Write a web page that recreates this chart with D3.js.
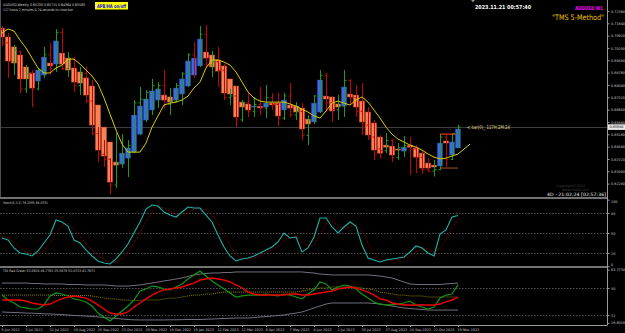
<!DOCTYPE html>
<html>
<head>
<meta charset="utf-8">
<script src="https://cdn.jsdelivr.net/npm/d3@7"></script>
<style>
  body { margin: 0; background: #000; }
  svg { display: block; }
  text { font-family: "DejaVu Sans", sans-serif; }
</style>
</head>
<body>
<div id="chart"></div>
<script>
// weekly bars, 5 Jun 2022 .. 19 Nov 2023
var dateIdx = [0, 4, 8, 12, 16, 20, 24, 28, 32, 36, 40, 44, 48, 52, 56, 60, 64, 68, 72, 76];
var dateLabels = ["5 Jun 2022", "3 Jul 2022", "31 Jul 2022", "28 Aug 2022", "25 Sep 2022", "23 Oct 2022",
  "20 Nov 2022", "18 Dec 2022", "15 Jan 2023", "12 Feb 2023", "12 Mar 2023", "9 Apr 2023", "7 May 2023",
  "4 Jun 2023", "2 Jul 2023", "30 Jul 2023", "27 Aug 2023", "24 Sep 2023", "22 Oct 2023", "19 Nov 2023"];

// heiken ashi bodies
var haOpen = [0.7136,0.7084,0.7026,0.6979,0.6909,0.6874,0.6827,0.6862,0.6932,0.6926,
  0.6990,0.6961,0.6903,0.6880,0.6845,0.6798,0.6687,0.6558,0.6471,0.6354,
  0.6342,0.6377,0.6412,0.6517,0.6599,0.6658,0.6716,0.6745,0.6734,0.6716,
  0.6751,0.6798,0.6862,0.6915,0.6996,0.6979,0.6950,0.6915,0.6839,0.6798,
  0.6704,0.6693,0.6675,0.6679,0.6675,0.6698,0.6698,0.6658,0.6687,0.6681,
  0.6669,0.6605,0.6588,0.6646,0.6739,0.6734,0.6693,0.6681,0.6751,0.6745,
  0.6710,0.6646,0.6582,0.6500,0.6453,0.6447,0.6430,0.6418,0.6453,0.6436,
  0.6406,0.6348,0.6336,0.6331,0.6477,0.6395,0.6436];
var haClose = [0.7084,0.6944,0.6932,0.6839,0.6839,0.6786,0.6891,0.6967,0.6915,0.7061,
  0.6926,0.6891,0.6821,0.6815,0.6745,0.6570,0.6424,0.6389,0.6237,0.6336,
  0.6406,0.6436,0.6628,0.6681,0.6722,0.6769,0.6780,0.6716,0.6704,0.6786,
  0.6839,0.6944,0.6961,0.7072,0.6961,0.6909,0.6885,0.6757,0.6751,0.6617,
  0.6675,0.6658,0.6681,0.6670,0.6698,0.6687,0.6623,0.6716,0.6669,0.6646,
  0.6547,0.6576,0.6698,0.6833,0.6722,0.6652,0.6675,0.6792,0.6734,0.6675,
  0.6588,0.6512,0.6424,0.6406,0.6441,0.6395,0.6424,0.6441,0.6441,0.6383,
  0.6319,0.6319,0.6325,0.6465,0.6465,0.6471,0.6547];

// real price bars
var barOpen = [0.7130,0.7050,0.6940,0.7000,0.6780,0.6870,0.6780,0.6890,0.6980,0.6900,
  0.7110,0.6900,0.6960,0.6800,0.6870,0.6710,0.6520,0.6400,0.6370,0.6220,
  0.6350,0.6400,0.6450,0.6700,0.6720,0.6760,0.6780,0.6800,0.6690,0.6710,
  0.6800,0.6870,0.6980,0.6960,0.7100,0.6920,0.6940,0.6890,0.6730,0.6740,
  0.6600,0.6700,0.6650,0.6690,0.6670,0.6730,0.6690,0.6610,0.6740,0.6630,
  0.6650,0.6510,0.6600,0.6740,0.6860,0.6700,0.6660,0.6680,0.6830,0.6730,
  0.6650,0.6570,0.6500,0.6430,0.6420,0.6480,0.6380,0.6440,0.6450,0.6430,
  0.6380,0.6310,0.6300,0.6310,0.6500,0.6370,0.6520];
var barHigh = [0.7148,0.7107,0.7037,0.7005,0.6920,0.6891,0.6903,0.7026,0.7049,0.7130,
  0.7136,0.6996,0.6965,0.6909,0.6909,0.6833,0.6558,0.6482,0.6377,0.6523,
  0.6517,0.6482,0.6716,0.6792,0.6774,0.6839,0.6821,0.6891,0.6786,0.6815,
  0.6880,0.6990,0.7055,0.7148,0.7154,0.7002,0.7026,0.6926,0.6783,0.6798,
  0.6716,0.6757,0.6734,0.6792,0.6804,0.6757,0.6757,0.6757,0.6815,0.6704,
  0.6698,0.6628,0.6745,0.6891,0.6874,0.6734,0.6745,0.6891,0.6839,0.6804,
  0.6815,0.6675,0.6599,0.6512,0.6523,0.6490,0.6465,0.6506,0.6500,0.6453,
  0.6420,0.6377,0.6366,0.6517,0.6512,0.6523,0.6572];
var barLow = [0.7031,0.6845,0.6862,0.6757,0.6757,0.6675,0.6774,0.6845,0.6862,0.6880,
  0.6891,0.6850,0.6763,0.6745,0.6698,0.6512,0.6354,0.6325,0.6167,0.6202,
  0.6319,0.6266,0.6406,0.6512,0.6588,0.6628,0.6669,0.6669,0.6628,0.6704,
  0.6687,0.6792,0.6845,0.6909,0.6909,0.6850,0.6792,0.6716,0.6687,0.6558,
  0.6588,0.6617,0.6617,0.6628,0.6611,0.6658,0.6564,0.6599,0.6617,0.6599,
  0.6482,0.6453,0.6576,0.6640,0.6646,0.6588,0.6599,0.6617,0.6687,0.6617,
  0.6512,0.6482,0.6366,0.6377,0.6406,0.6354,0.6366,0.6383,0.6278,0.6290,
  0.6285,0.6296,0.6270,0.6307,0.6325,0.6366,0.6436];
var barClose = [0.7050,0.6940,0.7008,0.6780,0.6870,0.6780,0.6890,0.6980,0.6900,0.7110,
  0.6900,0.6960,0.6800,0.6870,0.6710,0.6520,0.6400,0.6370,0.6220,0.6350,
  0.6400,0.6450,0.6700,0.6720,0.6760,0.6800,0.6800,0.6690,0.6710,0.6800,
  0.6870,0.6980,0.6960,0.7100,0.6920,0.6940,0.6890,0.6730,0.6740,0.6600,
  0.6700,0.6650,0.6690,0.6670,0.6730,0.6690,0.6610,0.6740,0.6630,0.6650,
  0.6510,0.6600,0.6740,0.6860,0.6700,0.6660,0.6680,0.6830,0.6730,0.6650,
  0.6570,0.6500,0.6400,0.6420,0.6480,0.6380,0.6440,0.6450,0.6430,0.6380,
  0.6310,0.6300,0.6310,0.6500,0.6370,0.6520,0.6558];

// shifted moving average (runs 2 bars past the last one)
var maValues = [0.7107,0.7131,0.7119,0.7066,0.7020,0.6961,0.6903,0.6874,0.6874,0.6903,
  0.6920,0.6955,0.6955,0.6926,0.6891,0.6856,0.6809,0.6728,0.6634,0.6541,
  0.6459,0.6412,0.6412,0.6412,0.6465,0.6558,0.6623,0.6687,0.6698,0.6704,
  0.6716,0.6739,0.6786,0.6821,0.6903,0.6950,0.6950,0.6938,0.6920,0.6880,
  0.6821,0.6763,0.6728,0.6710,0.6704,0.6704,0.6704,0.6704,0.6693,0.6681,
  0.6663,0.6646,0.6623,0.6611,0.6652,0.6698,0.6710,0.6698,0.6687,0.6716,
  0.6734,0.6704,0.6658,0.6611,0.6558,0.6517,0.6488,0.6471,0.6453,0.6441,
  0.6424,0.6401,0.6383,0.6372,0.6377,0.6389,0.6401,0.6430,0.6459];

// box levels on the last bars
var boxHigh = 0.6517, boxLow = 0.6319;
var boxFrom = 73, boxTo = 75.6;

var priceTicks = [0.72360, 0.71640, 0.70920, 0.70200, 0.69480, 0.68760, 0.68040, 0.67320,
  0.66600, 0.65880, 0.65160, 0.64440, 0.63720, 0.63000, 0.62280];

// stochastic
var stochMain = [42.5,39.5,27.5,20,18.5,15.5,23,35,47,69.5,
  66.5,60.5,39.5,35,24.5,15.5,8,5,3.5,11,
  21.5,33.5,50,66.5,86,92,90.5,81.5,77,74,
  81.5,89,87.5,87.5,77,66.5,47,29,15.5,8,
  11,12.5,15.5,20,24.5,29,36.5,50,42.5,44,
  21.5,27.5,44,72.5,72.5,59,50,59,66.5,60.5,
  32,12.5,9.5,6.5,9.5,11,12.5,14,21.5,30.5,
  27.5,20,15.5,48.5,54.5,74,76.2];
var stochSignal = [45,42,36,29,22,18,19,24,35,50,
  61,65,55,45,33,25,16,10,6,7,
  12,22,35,50,67,81,89,88,83,77,
  77,81,86,88,84,77,64,48,31,18,
  12,11,13,16,20,25,30,38,43,46,
  36,31,31,48,63,68,61,56,59,62,
  53,35,18,10,9,9,11,13,16,22,
  26,26,21,28,39,59,68.1];
var stochLevels = [80, 50, 20];
var stochTicks = [100, 80, 50, 20, 0];

// TDI
var tdiGreen = [45.3,42,40,37.3,36.7,36,36,38.7,44.7,46.7,
  46,44.7,42.7,42,40.7,38,33.3,30.7,28,31.3,
  34.7,38,42,48,49.3,51.3,50.7,49.3,48.7,50.7,
  52.7,56,58.7,61.3,58,54.7,52,49.3,46.7,44,
  44.7,45.3,45.3,45.3,46,45.3,44.7,46,45.3,44,
  42.7,46,48.7,54,52.7,48.7,50.7,52,51.3,49.3,
  46,43.3,40.7,39.3,38.7,38.7,39.3,40,41.3,38.7,
  37.3,36,37.3,43.3,45.3,46,52.1];
var tdiRed = [42,42,42,42,41.3,40,39.3,38.7,39.3,41.3,
  42.7,44,44.7,44,43.3,41.3,38.7,36,33.3,32.7,
  32.7,34,37.3,40,42.7,45.3,47.3,48.7,49.3,50,
  50.7,52,53.3,55.3,56,56.7,56,55.3,54,52,
  50,47.3,46,45.3,45.3,45.3,45.3,45.3,46,46,
  45.3,45.3,46,46.7,47.3,48,49.3,50,50.7,50,
  48.7,47.3,45.3,42.7,42,40,39.3,38.7,38.7,38.7,
  38.7,38.7,38.7,39.3,40.7,42,43.8];
var tdiBase = [45.3,45.3,45.3,45.3,45.3,45.3,45.3,45.3,45.3,45,
  45,45,45,45,45,44.7,44,43.3,42.7,42.7,
  42,42,41.7,41.7,42,42,42,42.7,43.3,43.3,
  44,44.7,45.3,45.3,46,46,46.7,47.3,47.3,47.3,
  47.3,47.3,47.3,47.3,47.3,47.3,47.3,47.3,47.3,47.3,
  48,48.7,49.3,50,50,50.7,50.7,50.7,50.7,50.7,
  50,49.3,48.7,47.3,46.7,46,45.3,45.3,44.7,44.7,
  44.7,44,44,44,44,44,44];
var tdiUpper = [53.3,53.3,53.3,53.3,53.3,53,53,52.7,52.7,52.7,
  52.7,52.3,52.3,52.3,52,52,52,52,51.7,51.3,
  51.3,51.3,51.7,52,52.7,53.3,54,54.7,55.3,56,
  56.7,57.7,58.7,59.3,59.7,60,60,60.3,60.3,60.7,
  60.7,60.7,60.7,60.7,60.7,60.7,60.7,60.7,60.7,60.7,
  60.7,60.3,60,59.3,59,58.7,58.7,58.7,58.7,58.7,
  58.7,58.7,58.3,58,57.3,56.7,55.3,54,52.7,52.3,
  52.3,52.3,52.3,52.3,52.7,53,53.3];
var tdiLower = [34,33.8,33.7,33.5,33.3,33.2,33,32.8,32.7,32.5,
  32.3,32,31.7,31.5,31.3,31,30.7,30.3,30,29.7,
  29.3,29,28.8,28.7,28.7,28.7,28.7,28.7,28.8,28.8,
  28.9,29,29,29,29.2,29.3,29.5,29.7,29.8,30,
  30,30,30.3,30.7,31,31.3,31.7,32,32.7,33.3,
  34,35.3,36.7,38,39.3,40,40,40,40,40,
  40,40,39.7,39.3,38.7,38,37.3,36.7,36.3,36,
  35.7,35.3,35.3,35.3,35.3,35.3,35.3];
var tdiLevels = [50, 32];
var tdiTickLabels = ["63.7734", "50", "32", "26.6019"];
var tdiTickValues = [62.2, 50, 32, 26.8];

// layout
var svgWidth = 625;
var svgHeight = 333;
var plotRight = 607;
var mainBottom = 197;

var svg = d3.select("#chart")
  .append("svg")
  .attr("width", svgWidth)
  .attr("height", svgHeight)
  .style("background", "#000");

var xScale = d3.scaleLinear().domain([0, 100]).range([2, 602]);
var yPrice = d3.scaleLinear().domain([0.6150, 0.7300]).range([mainBottom, 0]);
var yStoch = d3.scaleLinear().domain([0, 100]).range([266.3, 199.7]);
var yTdi = d3.scaleLinear().domain([26, 63.33]).range([324, 268]);

var defs = svg.append("defs");
function clip(id, y0, y1) {
  defs.append("clipPath").attr("id", id).append("rect")
    .attr("x", 0).attr("y", y0).attr("width", plotRight).attr("height", y1 - y0);
  return svg.append("g").attr("clip-path", "url(#" + id + ")");
}
var mainG = clip("clipMain", 0, mainBottom);
var stochG = clip("clipStoch", 199, 266);
var tdiG = clip("clipTdi", 268, 324);

var idx = d3.range(haOpen.length);
var last = idx.length - 1;

// bid line
mainG.append("line")
  .attr("x1", 0).attr("x2", plotRight)
  .attr("y1", Math.round(yPrice(barClose[last])) + 0.5)
  .attr("y2", Math.round(yPrice(barClose[last])) + 0.5)
  .attr("stroke", "#3c3c3c").attr("stroke-width", 1);

// heiken ashi bodies
mainG.selectAll("rect.body")
  .data(idx)
  .enter()
  .append("rect")
  .attr("x", i => xScale(i) - 2.5)
  .attr("width", 5)
  .attr("y", i => yPrice(Math.max(haOpen[i], haClose[i])))
  .attr("height", i => Math.max(1, Math.abs(yPrice(haOpen[i]) - yPrice(haClose[i]))))
  .attr("fill", i => haClose[i] >= haOpen[i] ? "#3f6ae0" : "#ff7f55")
  .attr("stroke", i => haClose[i] >= haOpen[i] ? "#2a4cb8" : "#c4522e")
  .attr("stroke-width", 0.5);

// real bars on top
mainG.selectAll("path.bar")
  .data(idx)
  .enter()
  .append("path")
  .attr("d", function(i) {
    var x = xScale(i) + 0.5;
    return "M" + x + "," + yPrice(barHigh[i]) + "V" + yPrice(barLow[i]) +
      "M" + (x - 2) + "," + yPrice(barOpen[i]) + "H" + x +
      "M" + x + "," + yPrice(barClose[i]) + "H" + (x + 2);
  })
  .attr("fill", "none")
  .attr("stroke", i => barClose[i] >= barOpen[i] ? "#1f9a1f" : "#c80000")
  .attr("stroke-width", 1);

// moving average
var maLine = d3.line()
  .x((d, i) => xScale(i))
  .y(d => yPrice(d));
mainG.append("path")
  .datum(maValues)
  .attr("d", maLine)
  .attr("fill", "none")
  .attr("stroke", "#d8cc00")
  .attr("stroke-width", 1);

// box levels
mainG.append("line")
  .attr("x1", xScale(boxFrom)).attr("x2", xScale(boxTo))
  .attr("y1", yPrice(boxHigh)).attr("y2", yPrice(boxHigh))
  .attr("stroke", "#ff4a10").attr("stroke-width", 1);
mainG.append("line")
  .attr("x1", xScale(boxFrom)).attr("x2", xScale(last))
  .attr("y1", yPrice(boxLow)).attr("y2", yPrice(boxLow))
  .attr("stroke", "#a0521e").attr("stroke-width", 1);

mainG.append("text")
  .attr("x", xScale(last) + 9)
  .attr("y", yPrice(barClose[last]) + 2)
  .attr("font-family", "Liberation Serif, serif")
  .attr("font-size", 5)
  .attr("textLength", 43)
  .attr("lengthAdjust", "spacingAndGlyphs")
  .attr("fill", "#e0dc90")
  .text("< bar(0)_ 117H:2M:24");

// header texts
svg.append("text").attr("x", 3).attr("y", 6).attr("font-size", 3.6)
  .attr("textLength", 82).attr("lengthAdjust", "spacingAndGlyphs")
  .attr("fill", "#d0d0d0").text("AUDUSD,Weekly  0.65200 0.65715 0.64364 0.65580");
svg.append("text").attr("x", 3).attr("y", 11).attr("font-size", 3.6)
  .attr("textLength", 70).attr("lengthAdjust", "spacingAndGlyphs")
  .attr("fill", "#d0d0d0").text("117 hours 2 minutes & 24 seconds to close bar");

svg.append("rect").attr("x", 95).attr("y", 2).attr("width", 33).attr("height", 7.5).attr("fill", "#ffff00");
svg.append("text").attr("x", 97).attr("y", 8).attr("font-size", 5).attr("font-weight", "bold")
  .attr("textLength", 29).attr("lengthAdjust", "spacingAndGlyphs")
  .attr("fill", "#1010e0").text("APB/HA on/off");

svg.append("path").attr("d", "M471,0 L475,0 L473,2.5 Z").attr("fill", "#909090");
svg.append("text").attr("x", 475).attr("y", 8.5).attr("font-size", 5.5).attr("font-weight", "bold")
  .attr("textLength", 56).attr("lengthAdjust", "spacingAndGlyphs")
  .attr("fill", "#ffffff").text("2023.11.21 00:57:40");
svg.append("text").attr("x", 575).attr("y", 9.5).attr("font-size", 5).attr("font-weight", "bold")
  .attr("textLength", 28).attr("lengthAdjust", "spacingAndGlyphs")
  .attr("fill", "#ff00ff").text("AUDUSD W1");
svg.append("text").attr("x", 552).attr("y", 19.5).attr("font-size", 7.5)
  .attr("textLength", 52).attr("lengthAdjust", "spacingAndGlyphs")
  .attr("fill", "#f0c000").text("\"TMS 5-Method\"");

svg.append("text").attr("x", 556).attr("y", 187).attr("font-size", 3.5)
  .attr("fill", "#3a3a3a").text("Copyright©2010");
svg.append("text").attr("x", 562).attr("y", 191).attr("font-size", 3.5)
  .attr("fill", "#3a3a3a").text("www.mql4.com");
svg.append("text").attr("x", 547).attr("y", 196).attr("font-size", 4.5)
  .attr("textLength", 59).attr("lengthAdjust", "spacingAndGlyphs")
  .attr("fill", "#e8e8e8").text("4D - 21:02:24 [02:57:36]");

// stochastic panel
stochG.selectAll("line.lvl")
  .data(stochLevels)
  .enter()
  .append("line")
  .attr("x1", 0).attr("x2", plotRight)
  .attr("y1", d => Math.round(yStoch(d)) + 0.5).attr("y2", d => Math.round(yStoch(d)) + 0.5)
  .attr("stroke", "#8a8a8a").attr("stroke-width", 0.6).attr("stroke-dasharray", "1.5,1.5");

var lineStoch = d3.line().x((d, i) => xScale(i)).y(d => yStoch(d));
stochG.append("path").datum(stochSignal).attr("d", lineStoch)
  .attr("fill", "none").attr("stroke", "#a00000").attr("stroke-width", 0.8).attr("stroke-dasharray", "1,1");
stochG.append("path").datum(stochMain).attr("d", lineStoch)
  .attr("fill", "none").attr("stroke", "#20b0a8").attr("stroke-width", 1.1);

svg.append("text").attr("x", 3).attr("y", 204).attr("font-size", 3.4)
  .attr("textLength", 45).attr("lengthAdjust", "spacingAndGlyphs")
  .attr("fill", "#d0d0d0").text("Stoch(5,3,3) 76.2055 68.0751");

// TDI panel
tdiG.selectAll("line.lvl")
  .data(tdiLevels)
  .enter()
  .append("line")
  .attr("x1", 0).attr("x2", plotRight)
  .attr("y1", d => Math.round(yTdi(d)) + 0.5).attr("y2", d => Math.round(yTdi(d)) + 0.5)
  .attr("stroke", "#8a8a8a").attr("stroke-width", 0.6).attr("stroke-dasharray", "1.5,1.5");

var lineTdi = d3.line().x((d, i) => xScale(i)).y(d => yTdi(d));
tdiG.append("path").datum(tdiUpper).attr("d", lineTdi)
  .attr("fill", "none").attr("stroke", "#7c7c8c").attr("stroke-width", 0.9);
tdiG.append("path").datum(tdiLower).attr("d", lineTdi)
  .attr("fill", "none").attr("stroke", "#7c7c8c").attr("stroke-width", 0.9);
tdiG.append("path").datum(tdiBase).attr("d", lineTdi)
  .attr("fill", "none").attr("stroke", "#b4a400").attr("stroke-width", 0.8).attr("stroke-dasharray", "1,1");
tdiG.append("path").datum(tdiGreen).attr("d", lineTdi)
  .attr("fill", "none").attr("stroke", "#149614").attr("stroke-width", 1.2);
tdiG.append("path").datum(tdiRed).attr("d", lineTdi)
  .attr("fill", "none").attr("stroke", "#f00000").attr("stroke-width", 1.4);

svg.append("text").attr("x", 3).attr("y", 272).attr("font-size", 3.4)
  .attr("textLength", 92).attr("lengthAdjust", "spacingAndGlyphs")
  .attr("fill", "#d0d0d0").text("TDI Red Green 53.0928 44.7783 25.5879 52.0723 43.7671");

// frames
var frame = svg.append("g").attr("stroke", "#9a9a9a").attr("fill", "none");
frame.append("line").attr("x1", 0).attr("x2", plotRight + 0.5).attr("y1", 198).attr("y2", 198).attr("stroke-width", 1.6);
frame.append("line").attr("x1", 0).attr("x2", plotRight + 0.5).attr("y1", 267).attr("y2", 267).attr("stroke-width", 1.6);
frame.append("line").attr("x1", 0.5).attr("x2", 0.5).attr("y1", 0).attr("y2", 197).attr("stroke", "#505050");

// right-hand axes
var priceAxis = svg.append("g")
  .attr("transform", "translate(" + (plotRight + 0.5) + ",0)")
  .call(d3.axisRight(yPrice).tickValues(priceTicks).tickSize(2).tickFormat(d3.format(".5f")));
var stochAxis = svg.append("g")
  .attr("transform", "translate(" + (plotRight + 0.5) + ",0)")
  .call(d3.axisRight(yStoch).tickValues(stochTicks).tickSize(2).tickFormat(d3.format("d")));
var tdiAxis = svg.append("g")
  .attr("transform", "translate(" + (plotRight + 0.5) + ",0)")
  .call(d3.axisRight(yTdi).tickValues(tdiTickValues).tickSize(2).tickFormat((d, k) => tdiTickLabels[k]));

[priceAxis, stochAxis, tdiAxis].forEach(function(ax) {
  ax.select(".domain").remove();
  ax.selectAll("line").attr("stroke", "#9a9a9a");
  ax.selectAll("text").attr("font-size", 3.4).attr("fill", "#c8c8c8").attr("x", 3.5);
});
// keep the end labels of the stoch scale inside their panel
stochAxis.selectAll(".tick").filter(d => d === 0).select("text").attr("dy", "-0.3em");
stochAxis.selectAll(".tick").filter(d => d === 100).select("text").attr("dy", "0.9em");

svg.append("line").attr("x1", plotRight + 0.5).attr("x2", plotRight + 0.5)
  .attr("y1", 0).attr("y2", 325).attr("stroke", "#9a9a9a").attr("stroke-width", 1);

// current price label
var bidY = yPrice(barClose[last]);
svg.append("rect").attr("x", plotRight + 1).attr("y", bidY - 2.8).attr("width", 17).attr("height", 5.6).attr("fill", "#e8e8e8");
svg.append("text").attr("x", plotRight + 2.5).attr("y", bidY + 1.3).attr("font-size", 3.4)
  .attr("fill", "#000").text(d3.format(".5f")(barClose[last]));

// date axis
var dateAxis = svg.append("g")
  .attr("transform", "translate(0,325)")
  .call(d3.axisBottom(xScale).tickValues(dateIdx).tickSize(2).tickFormat((d, k) => dateLabels[k]));
dateAxis.select(".domain").attr("stroke", "#9a9a9a").attr("d", "M0,0.5H" + (plotRight + 0.5));
dateAxis.selectAll("line").attr("stroke", "#9a9a9a");
dateAxis.selectAll("text")
  .attr("font-size", 3.4)
  .attr("fill", "#c8c8c8")
  .attr("text-anchor", "start")
  .attr("x", -1)
  .attr("y", 2.5)
  .attr("dy", "0.9em");
</script>
</body>
</html>
